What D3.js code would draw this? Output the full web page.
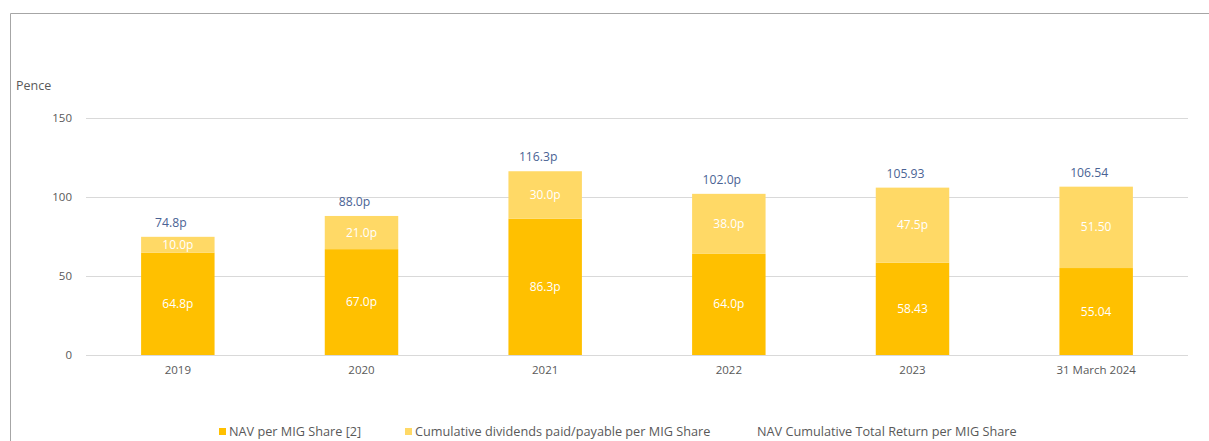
<!DOCTYPE html>
<html>
<head>
<meta charset="utf-8">
<script src="https://cdn.jsdelivr.net/npm/d3@7"></script>
<style>
  html, body { margin: 0; padding: 0; background: #fff; }
  svg { display: block; font-family: "Open Sans", "Noto Sans", sans-serif; }
</style>
</head>
<body>
<svg id="chart" width="1209" height="441"></svg>
<script>
// Chart data
const categories = ["2019", "2020", "2021", "2022", "2023", "31 March 2024"];
const navValues = [64.8, 67.0, 86.3, 64.0, 58.43, 55.04];
const navLabels = ["64.8p", "67.0p", "86.3p", "64.0p", "58.43", "55.04"];
const dividendValues = [10.0, 21.0, 30.0, 38.0, 47.5, 51.5];
const dividendLabels = ["10.0p", "21.0p", "30.0p", "38.0p", "47.5p", "51.50"];
const totalValues = [74.8, 88.0, 116.3, 102.0, 105.93, 106.54];
const totalLabels = ["74.8p", "88.0p", "116.3p", "102.0p", "105.93", "106.54"];
const yTicks = [0, 50, 100, 150];
const seriesNames = ["NAV per MIG Share [2]", "Cumulative dividends paid/payable per MIG Share", "NAV Cumulative Total Return per MIG Share"];

const navColor = "#FFC000";
const divColor = "#FFD966";
const labelBlue = "#4A6394";
const textGrey = "#595959";

const svg = d3.select("#chart");

// Outer frame (top and left edges)
svg.append("path")
  .attr("d", "M10.5,441 V13.5 H1209")
  .attr("fill", "none")
  .attr("stroke", "#A6A6A6")
  .attr("stroke-width", 1);

const plot = { left: 86, right: 1188, top: 118, bottom: 355 };

const x = d3.scaleBand()
  .domain(categories)
  .range([plot.left, plot.right])
  .paddingInner(0.6)
  .paddingOuter(0.3);

const y = d3.scaleLinear()
  .domain([0, 150])
  .range([plot.bottom, plot.top]);

// Horizontal gridlines
svg.append("g")
  .selectAll("line")
  .data(yTicks.filter(t => t > 0))
  .join("line")
  .attr("x1", plot.left)
  .attr("x2", plot.right)
  .attr("y1", d => Math.round(y(d)) + 0.5)
  .attr("y2", d => Math.round(y(d)) + 0.5)
  .attr("stroke", "#D9D9D9")
  .attr("stroke-width", 1);

// Y axis labels
const yAxis = d3.axisLeft(y).tickValues(yTicks).tickSize(0).tickPadding(0);
svg.append("g")
  .attr("transform", `translate(${plot.left - 14},0)`)
  .call(yAxis)
  .call(g => g.select(".domain").remove())
  .call(g => g.selectAll("text")
    .attr("fill", textGrey)
    .style("font-size", "11.5px")
    .style("font-family", "'Open Sans', sans-serif"));

// Axis title
svg.append("text")
  .attr("x", 16)
  .attr("y", 90)
  .attr("fill", textGrey)
  .style("font-size", "12.5px")
  .text("Pence");

// Stacked bars
const stacked = categories.map((c, i) => ({ c, nav: navValues[i], div: dividendValues[i], i }));

svg.append("g")
  .selectAll("rect.nav")
  .data(stacked)
  .join("rect")
  .attr("class", "nav")
  .attr("x", d => x(d.c))
  .attr("width", x.bandwidth())
  .attr("y", d => y(d.nav))
  .attr("height", d => y(0) - y(d.nav))
  .attr("fill", navColor);

svg.append("g")
  .selectAll("rect.div")
  .data(stacked)
  .join("rect")
  .attr("class", "div")
  .attr("x", d => x(d.c))
  .attr("width", x.bandwidth())
  .attr("y", d => y(d.nav + d.div))
  .attr("height", d => y(d.nav) - y(d.nav + d.div))
  .attr("fill", divColor);

// X axis baseline
svg.append("line")
  .attr("x1", plot.left)
  .attr("x2", plot.right)
  .attr("y1", plot.bottom + 0.5)
  .attr("y2", plot.bottom + 0.5)
  .attr("stroke", "#D9D9D9");

// X axis labels
const xAxis = d3.axisBottom(x).tickSize(0).tickPadding(0);
svg.append("g")
  .attr("transform", `translate(0,${plot.bottom + 19})`)
  .call(xAxis)
  .call(g => g.select(".domain").remove())
  .call(g => g.selectAll("text")
    .attr("dy", 0)
    .attr("fill", textGrey)
    .style("font-size", "11.5px")
    .style("font-family", "'Open Sans', sans-serif"));

// Segment labels
const segText = svg.append("g")
  .attr("fill", "#FFFFFF")
  .attr("text-anchor", "middle")
  .style("font-size", "12px");

segText.selectAll("text.navl")
  .data(stacked)
  .join("text")
  .attr("x", d => x(d.c) + x.bandwidth() / 2)
  .attr("y", d => (y(0) + y(d.nav)) / 2 + 4)
  .text(d => navLabels[d.i]);

segText.selectAll("text.divl")
  .data(stacked)
  .join("text")
  .attr("x", d => x(d.c) + x.bandwidth() / 2)
  .attr("y", d => (y(d.nav) + y(d.nav + d.div)) / 2 + 4)
  .text(d => dividendLabels[d.i]);

// Total return labels above each bar
svg.append("g")
  .attr("fill", labelBlue)
  .attr("text-anchor", "middle")
  .style("font-size", "12.2px")
  .selectAll("text")
  .data(totalValues)
  .join("text")
  .attr("x", (d, i) => x(categories[i]) + x.bandwidth() / 2 - 7)
  .attr("y", d => y(d) - 10)
  .text((d, i) => totalLabels[i]);

// Legend
const legendItems = [
  { name: seriesNames[0], color: navColor, x: 219 },
  { name: seriesNames[1], color: divColor, x: 405 },
  { name: seriesNames[2], color: null, x: 747 }
];
const legend = svg.append("g").attr("transform", "translate(0,432)");
legendItems.forEach(item => {
  if (item.color) {
    legend.append("rect")
      .attr("x", item.x)
      .attr("y", -4)
      .attr("width", 7)
      .attr("height", 7)
      .attr("fill", item.color);
  }
  legend.append("text")
    .attr("x", item.x + 10)
    .attr("y", 4)
    .attr("fill", textGrey)
    .style("font-size", "12.7px")
    .text(item.name);
});
</script>
</body>
</html>
